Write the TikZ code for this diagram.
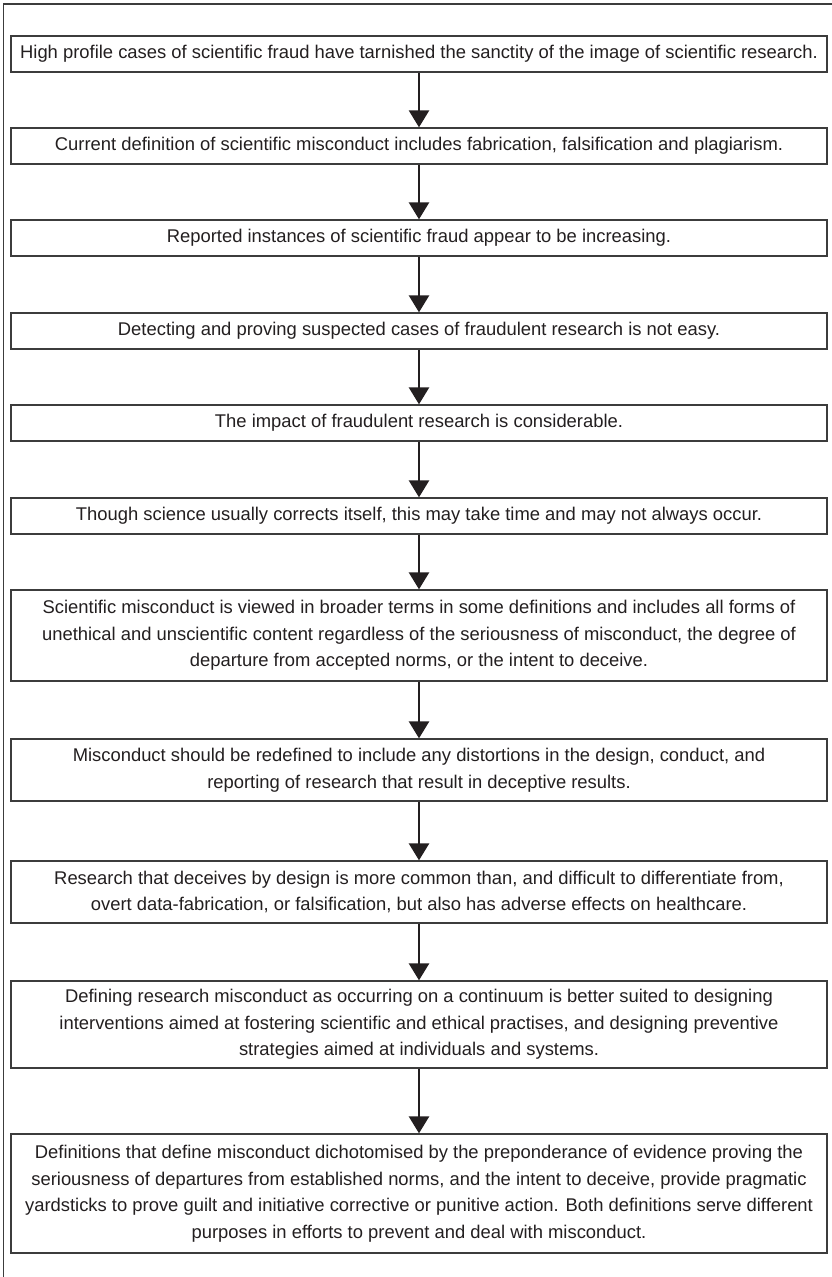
\documentclass[tikz,border=0pt]{standalone}
\usepackage{fontspec}
\setmainfont{Liberation Sans}
\usepackage{tikz}
\usetikzlibrary{arrows.meta,positioning}
\definecolor{ink}{RGB}{35,31,32}
\definecolor{frame}{RGB}{60,60,60}

\begin{document}
\begin{tikzpicture}[
    x=1pt, y=-1pt,
    box/.style={draw=frame, line width=1.3pt, minimum width=816pt, align=center, fill=white,
        text=ink, font=\fontsize{18.4}{26.5}\selectfont, inner sep=0pt},
    arrow/.style={-{Triangle[width=20pt,length=17pt]}, line width=2.6pt, ink}
]
    % Canvas
    \useasboundingbox (0,0) rectangle (832,1277);

    % Outer frame (left and top only)
    \draw[frame, line width=1.2pt] (3.5,1277) -- (3.5,4) -- (832,4);

    % Single line boxes
    \node[box, minimum height=36pt] (fraud) at (419,54) {High profile cases of scientific fraud have tarnished the sanctity of the image of scientific research.};
    \node[box, minimum height=36pt] (defn) at (419,146) {Current definition of scientific misconduct includes fabrication, falsification and plagiarism.};
    \node[box, minimum height=36pt] (incr) at (419,238) {Reported instances of scientific fraud appear to be increasing.};
    \node[box, minimum height=36pt] (detect) at (419,331) {Detecting and proving suspected cases of fraudulent research is not easy.};
    \node[box, minimum height=36pt] (impact) at (419,423) {The impact of fraudulent research is considerable.};
    \node[box, minimum height=36pt] (correct) at (419,516) {Though science usually corrects itself, this may take time and may not always occur.};

    % Multi line boxes
    \node[box, minimum height=91pt] (broad) at (419,635.5) {
        Scientific misconduct is viewed in broader terms in some definitions and includes all forms of\\
        unethical and unscientific content regardless of the seriousness of misconduct, the degree of\\
        departure from accepted norms, or the intent to deceive.
    };
    \node[box, minimum height=62pt] (redef) at (419,770) {
        Misconduct should be redefined to include any distortions in the design, conduct, and\\
        reporting of research that result in deceptive results.
    };
    \node[box, minimum height=62pt] (design) at (419,892) {
        Research that deceives by design is more common than, and difficult to differentiate from,\\
        overt data-fabrication, or falsification, but also has adverse effects on healthcare.
    };
    \node[box, minimum height=87pt] (contin) at (419,1024.5) {
        Defining research misconduct as occurring on a continuum is better suited to designing\\
        interventions aimed at fostering scientific and ethical practises, and designing preventive\\
        strategies aimed at individuals and systems.
    };
    \node[box, minimum height=119pt] (dicho) at (419,1193.5) {
        Definitions that define misconduct dichotomised by the preponderance of evidence proving the\\
        seriousness of departures from established norms, and the intent to deceive, provide pragmatic\\
        yardsticks to prove guilt and initiative corrective or punitive action. Both definitions serve different\\
        purposes in efforts to prevent and deal with misconduct.
    };

    % Arrows
    \draw[arrow] (fraud) -- (defn);
    \draw[arrow] (defn) -- (incr);
    \draw[arrow] (incr) -- (detect);
    \draw[arrow] (detect) -- (impact);
    \draw[arrow] (impact) -- (correct);
    \draw[arrow] (correct) -- (broad);
    \draw[arrow] (broad) -- (redef);
    \draw[arrow] (redef) -- (design);
    \draw[arrow] (design) -- (contin);
    \draw[arrow] (contin) -- (dicho);
\end{tikzpicture}
\end{document}
